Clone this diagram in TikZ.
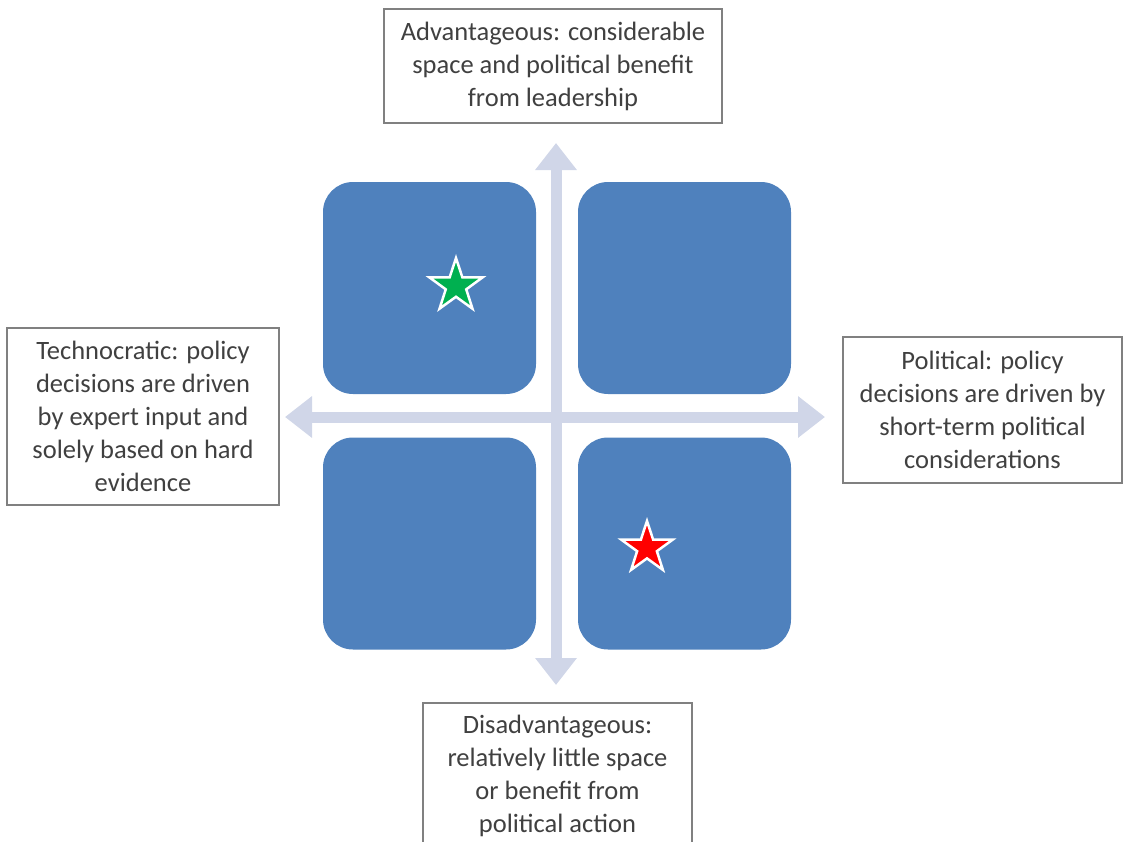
\documentclass[tikz,border=0pt]{standalone}
\usepackage{fontspec}
\setmainfont{Carlito}
\usetikzlibrary{positioning,shapes.geometric,arrows.meta}
\definecolor{quadblue}{RGB}{79,129,189}
\definecolor{axisgray}{RGB}{208,214,232}
\definecolor{boxgray}{RGB}{128,128,128}
\definecolor{textgray}{RGB}{64,64,64}
\definecolor{stargreen}{RGB}{0,176,80}

\begin{document}
\begin{tikzpicture}[x=1pt,y=-1pt,
  quad/.style={rectangle,rounded corners=30pt,fill=quadblue,minimum width=213pt,minimum height=212pt,inner sep=0pt},
  labelbox/.style={draw=boxgray,line width=1.3pt,fill=white,text=textgray,align=center,font=\fontsize{26.5}{33}\selectfont,inner sep=0pt},
  axis/.style={draw=axisgray,line width=11pt,{Triangle[width=40pt,length=27pt]}-{Triangle[width=40pt,length=27pt]}},
  marker/.style={star,star points=5,star point ratio=2.6,minimum size=56pt,inner sep=0pt,draw=white,line width=2.5pt}]
  \useasboundingbox (0,0) rectangle (1124,841);
  \clip (0,0) rectangle (1124,841);
  % axes
  \coordinate (ntip) at (556,143);
  \coordinate (stip) at (556,685);
  \coordinate (wtip) at (285,417);
  \coordinate (etip) at (825,417);
  \draw[axis] (ntip) -- (stip);
  \draw[axis] (wtip) -- (etip);
  % quadrants
  \node[quad] (qtl) at (429.5,288) {};
  \node[quad] (qtr) at (684.5,288) {};
  \node[quad] (qbl) at (429.5,543.5) {};
  \node[quad] (qbr) at (684.5,543.5) {};
  \node[marker,fill=stargreen] (sgreen) at (456,286) {};
  \node[marker,fill=red,minimum size=54pt] (sred) at (647,548) {};
  % labels
  \node[labelbox,minimum width=338pt,minimum height=114pt] (top) at (553,66)
    {Advantageous: considerable\\space and political benefit\\from leadership};
  \node[labelbox,minimum width=272pt,minimum height=177pt] (left) at (143,416.5)
    {Technocratic: policy\\decisions are driven\\by expert input and\\solely based on hard\\evidence};
  \node[labelbox,minimum width=279pt,minimum height=146pt] (right) at (982.5,410)
    {Political: policy\\decisions are driven by\\short-term political\\considerations};
  \node[labelbox,minimum width=269pt,minimum height=146pt] (bottom) at (557.5,776)
    {Disadvantageous:\\relatively little space\\or benefit from\\political action};
\end{tikzpicture}
\end{document}
